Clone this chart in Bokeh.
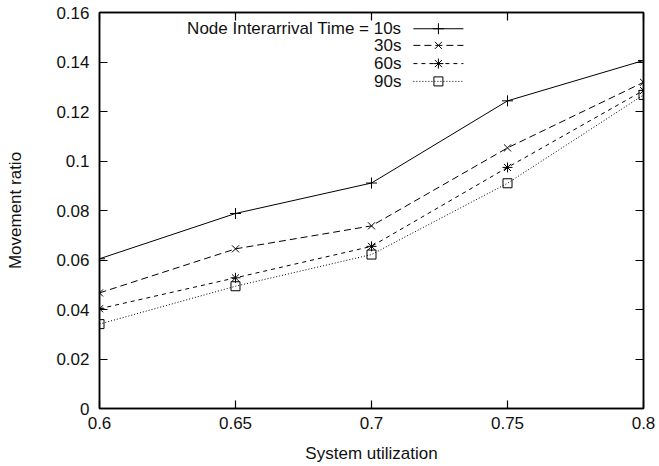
from bokeh.plotting import figure
from bokeh.models import Range1d, LinearAxis, FixedTicker, Label
from bokeh.embed import file_html
from bokeh.resources import INLINE

# ---------------- data ----------------
utilization = [0.6, 0.65, 0.7, 0.75, 0.8]
ratio_10s = [0.0605, 0.0788, 0.0911, 0.1243, 0.1406]
ratio_30s = [0.0467, 0.0645, 0.0738, 0.1053, 0.1318]
ratio_60s = [0.0403, 0.0528, 0.0655, 0.0974, 0.1285]
ratio_90s = [0.0341, 0.0494, 0.0622, 0.0910, 0.1267]
series_labels = ["Node Interarrival Time = 10s", "30s", "60s", "90s"]

x_ticks = [0.6, 0.65, 0.7, 0.75, 0.8]
x_tick_labels = ["0.6", "0.65", "0.7", "0.75", "0.8"]
y_ticks = [0, 0.02, 0.04, 0.06, 0.08, 0.1, 0.12, 0.14, 0.16]
y_tick_labels = ["0", "0.02", "0.04", "0.06", "0.08", "0.1", "0.12", "0.14", "0.16"]

x_title = "System utilization"
y_title = "Movement ratio"

# ---------------- style ----------------
FONT = "Liberation Sans"
FS = "17px"
styles = [
    dict(dash="solid", marker="cross", size=11, fill=None),
    dict(dash="7 4", marker="x", size=10, fill=None),
    dict(dash="4 4", marker="asterisk", size=10, fill=None),
    dict(dash="1 2", marker="square", size=9, fill=None),
]
series = [ratio_10s, ratio_30s, ratio_60s, ratio_90s]

X0, X1, Y0, Y1 = x_ticks[0], x_ticks[-1], y_ticks[0], y_ticks[-1]

p = figure(width=659, height=466,
           x_range=Range1d(X0, X1), y_range=Range1d(Y0, Y1),
           output_backend="svg", toolbar_location=None,
           min_border_left=99, min_border_right=16,
           min_border_top=12, min_border_bottom=58,
           background_fill_color="white", border_fill_color="white")
p.outline_line_color = "black"
p.outline_line_width = 1.5
p.xgrid.visible = False
p.ygrid.visible = False

def style_axis(ax, ticks, labels, show_labels=True):
    ax.ticker = FixedTicker(ticks=ticks)
    ax.major_label_overrides = {t: l for t, l in zip(ticks, labels)}
    ax.major_tick_in = 8
    ax.major_tick_out = 0
    ax.major_tick_line_color = "black"
    ax.major_tick_line_width = 1.2
    ax.minor_tick_line_color = None
    ax.axis_line_color = "black"
    ax.axis_line_width = 1.5
    ax.major_label_text_font = FONT
    ax.major_label_text_color = "#111111"
    ax.axis_label_text_font = FONT
    ax.axis_label_text_font_style = "normal"
    ax.axis_label_text_color = "#111111"
    if show_labels:
        ax.major_label_text_font_size = FS
        ax.axis_label_text_font_size = FS
    else:
        ax.major_label_text_font_size = "0px"
        ax.major_label_standoff = 0

xa = p.xaxis[0]
style_axis(xa, x_ticks, x_tick_labels)
xa.axis_label = x_title
xa.major_label_standoff = 8
xa.axis_label_standoff = 12

ya = p.yaxis[0]
style_axis(ya, y_ticks, y_tick_labels)
ya.axis_label = y_title
ya.major_label_standoff = 10
ya.axis_label_standoff = 28

top = LinearAxis()
style_axis(top, x_ticks, [""] * len(x_ticks), show_labels=False)
p.add_layout(top, "above")
right = LinearAxis()
style_axis(right, y_ticks, [""] * len(y_ticks), show_labels=False)
p.add_layout(right, "right")

for ys, st in zip(series, styles):
    p.line(utilization, ys, line_color="black", line_width=1, line_dash=st["dash"])
    p.scatter(utilization, ys, marker=st["marker"], size=st["size"],
              line_color="black", fill_color=st["fill"], line_width=1)

# ---------------- legend (gnuplot style: label left, sample right) ----------------
xr = X1 - X0
yr = Y1 - Y0
leg_text_x = X0 + 0.555 * xr
leg_line_x0 = X0 + 0.577 * xr
leg_line_x1 = X0 + 0.669 * xr
leg_row_y = [Y0 + f * yr for f in (0.959, 0.917, 0.871, 0.826)]

for lab, st, yy in zip(series_labels, styles, leg_row_y):
    p.add_layout(Label(x=leg_text_x, y=yy, text=lab, text_align="right",
                       text_baseline="middle", text_font=FONT,
                       text_font_size=FS, text_color="#111111"))
    p.line([leg_line_x0, leg_line_x1], [yy, yy], line_color="black",
           line_width=1, line_dash=st["dash"])
    p.scatter([(leg_line_x0 + leg_line_x1) / 2], [yy], marker=st["marker"],
              size=st["size"], line_color="black", fill_color=st["fill"], line_width=1)

open("out.html", "w").write(file_html(p, INLINE))
